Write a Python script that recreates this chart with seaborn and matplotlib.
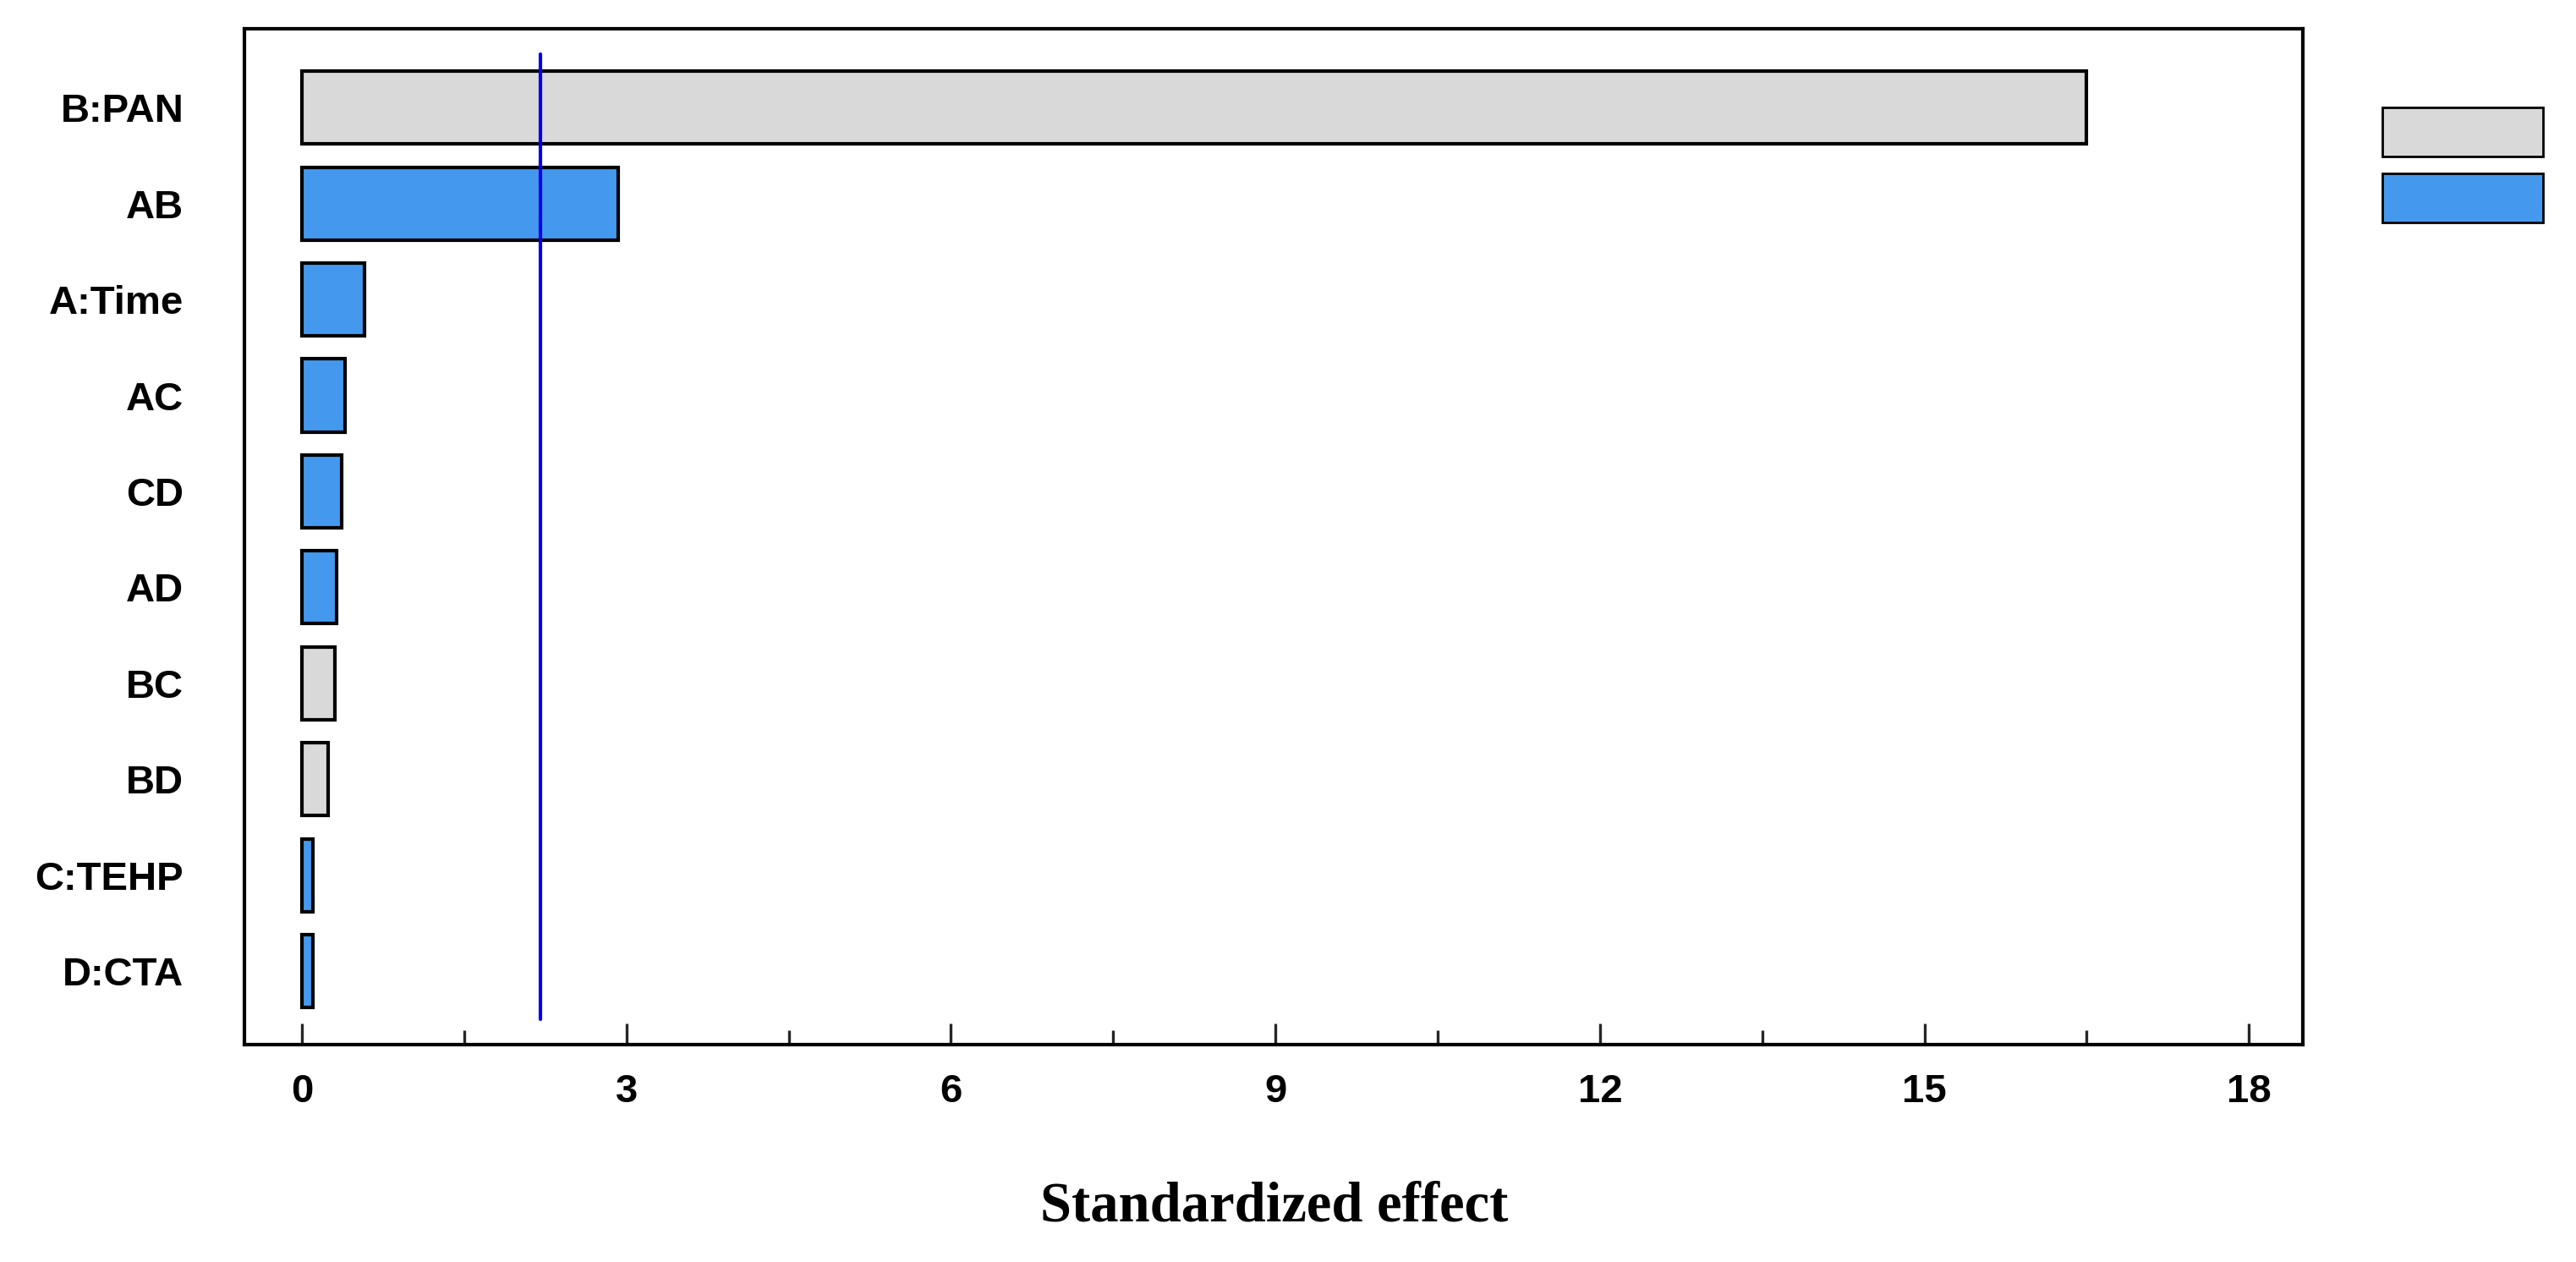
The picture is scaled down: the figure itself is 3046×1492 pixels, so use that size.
import numpy as np
import pandas as pd
import matplotlib
matplotlib.use("Agg")
import matplotlib.pyplot as plt
import seaborn as sns
from matplotlib.patches import Patch
from matplotlib.ticker import MultipleLocator

terms = ["B:PAN", "AB", "A:Time", "AC", "CD", "AD", "BC", "BD", "C:TEHP", "D:CTA"]
effects = [16.5, 2.92, 0.58, 0.40, 0.37, 0.32, 0.30, 0.24, 0.10, 0.10]
signs = ["+", "-", "-", "-", "-", "-", "+", "+", "-", "-"]
critical = 2.20

sns.set_style("white")
plt.rcParams["font.family"] = ["Liberation Sans", "DejaVu Sans"]

df = pd.DataFrame({"term": terms, "effect": effects, "sign": signs})
palette = {"+": "#d9d9d9", "-": "#4499ee"}

fig = plt.figure(figsize=(15.23, 7.46), dpi=200)
ax = fig.add_axes([0.095, 0.172, 0.799, 0.805])

sns.barplot(data=df, x="effect", y="term", hue="sign", palette=palette,
            dodge=False, width=0.76, edgecolor="black", linewidth=1.5,
            saturation=1, legend=False, ax=ax)
ax.axvline(critical, color="#0000ee", lw=1.5, ymin=0.025, ymax=0.975)

ax.set_xlim(-0.53, 18.5)
ax.set_ylim(9.77, -0.82)
ax.set_xticks(np.arange(0, 19, 3))
ax.xaxis.set_minor_locator(MultipleLocator(1.5))
ax.tick_params(axis="x", which="both", direction="in", top=False, bottom=True,
               labelsize=17, pad=12, labelcolor="black")
ax.tick_params(axis="x", which="major", length=9, width=1.2)
ax.tick_params(axis="x", which="minor", length=6, width=1.2)
ax.tick_params(axis="y", length=0, labelsize=17, pad=26, labelcolor="black")
for lab in ax.get_xticklabels() + ax.get_yticklabels():
    lab.set_fontweight("bold")
for s in ax.spines.values():
    s.set_linewidth(1.5)
    s.set_color("black")

ax.set_ylabel("")
ax.set_xlabel("Standardized effect", fontsize=24, fontweight="bold", color="black",
              family=["Liberation Serif", "DejaVu Serif"], labelpad=30)

handles = [Patch(facecolor=palette["+"], edgecolor="black", label="+"),
           Patch(facecolor=palette["-"], edgecolor="black", label="-")]
leg = ax.legend(handles=handles, loc="upper left", bbox_to_anchor=(1.02, 0.96),
                frameon=False, handlelength=3.8, handleheight=1.4,
                prop={"size": 18, "weight": "bold"}, labelspacing=0.4)

fig.savefig("out.png", dpi=200)
